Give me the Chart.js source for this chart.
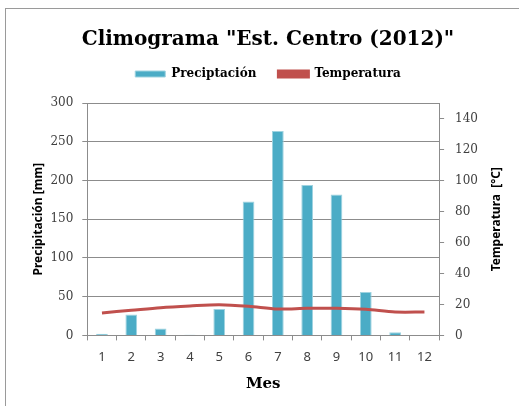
<!DOCTYPE html>
<html>
<head>
<meta charset="utf-8">
<script src="https://cdn.jsdelivr.net/npm/chart.js@4/dist/chart.umd.min.js"></script>
<style>
  html, body { margin: 0; padding: 0; background: #fff; }
  #wrap { position: relative; width: 519px; height: 406px; overflow: hidden; }
  #frame { position: absolute; left: 5px; top: 8px; width: 530px; height: 420px; border: 1px solid #9a9a9a; box-sizing: border-box; }
  #chart { position: absolute; left: 0; top: 0; }
</style>
</head>
<body>
<div id="wrap">
  <div id="frame"></div>
  <canvas id="chart" width="519" height="406"></canvas>
</div>
<script>
// Monthly climate data
const months = ['1', '2', '3', '4', '5', '6', '7', '8', '9', '10', '11', '12'];
const precipitation = [2, 27, 9, 1, 34, 173, 264, 194, 182, 56, 4, 0];
const temperature = [14.5, 16.2, 17.9, 19.0, 19.8, 18.8, 17.0, 17.5, 17.5, 16.8, 15.1, 15.1];
const tempTicks = [0, 20, 40, 60, 80, 100, 120, 140];

const serif = '"DejaVu Serif", serif';
const sans = '"Noto Sans", sans-serif';
const axisGrey = '#8c8c8c';
const textGrey = '#404040';

// extra room between the legend and the plot
const legendGap = {
    id: 'legendGap',
    beforeInit(chart) {
        const fit = chart.legend.fit;
        chart.legend.fit = function () {
            fit.bind(chart.legend)();
            this.height += 9;
        };
    },
    // header sits a bit right of the canvas centre
    afterLayout(chart) {
        chart.legend.left += 8;
        chart.legend.right += 8;
        chart.legend.top -= 4;
        chart.titleBlock.left += 8;
        chart.titleBlock.right += 8;
    }
};

// right axis title, read bottom-to-top like the left one
const rightTitle = {
    id: 'rightTitle',
    afterDraw(chart) {
        const { ctx, chartArea } = chart;
        ctx.save();
        ctx.translate(497, (chartArea.top + chartArea.bottom) / 2);
        ctx.rotate(-Math.PI / 2);
        ctx.font = 'bold 12px ' + sans;
        ctx.fillStyle = '#000';
        ctx.textAlign = 'center';
        ctx.textBaseline = 'middle';
        ctx.fillText('Temperatura  [°C]', 0, 0);
        ctx.restore();
    }
};

const ctx = document.getElementById('chart').getContext('2d');
new Chart(ctx, {
    type: 'bar',
    data: {
        labels: months,
        datasets: [
            {
                type: 'line',
                label: 'Temperatura',
                data: temperature,
                yAxisID: 'yTemp',
                borderColor: '#c0504d',
                backgroundColor: '#c0504d',
                borderWidth: 3,
                pointRadius: 0,
                tension: 0.3,
                order: 0
            },
            {
                label: 'Preciptación',
                data: precipitation,
                yAxisID: 'yPrec',
                backgroundColor: '#4bacc6',
                borderColor: '#9fd3e0',
                borderWidth: 1,
                barPercentage: 0.8,
                categoryPercentage: 0.5,
                order: 1
            }
        ]
    },
    plugins: [legendGap, rightTitle],
    options: {
        responsive: false,
        animation: false,
        layout: { padding: { left: 31, right: 30, top: 10, bottom: 13 } },
        plugins: {
            title: {
                display: true,
                text: 'Climograma "Est. Centro (2012)"',
                color: '#000',
                font: { family: serif, size: 20, weight: 'bold', lineHeight: 1 },
                padding: { top: 20, bottom: 0 }
            },
            legend: {
                display: true,
                position: 'top',
                reverse: true,
                labels: {
                    boxWidth: 30,
                    boxHeight: 6,
                    padding: 22,
                    color: '#000',
                    font: { family: serif, size: 12, weight: 'bold' }
                }
            },
            tooltip: { enabled: false }
        },
        scales: {
            x: {
                grid: { offset: true, drawOnChartArea: false, drawTicks: true, tickLength: 5, color: axisGrey },
                border: { color: axisGrey },
                ticks: { color: textGrey, font: { family: sans, size: 13 }, padding: 9 },
                title: {
                    display: true,
                    text: 'Mes',
                    color: '#000',
                    font: { family: serif, size: 15, weight: 'bold' },
                    padding: { top: 1, bottom: 0 }
                }
            },
            yPrec: {
                position: 'left',
                min: 0,
                max: 300,
                grid: { color: axisGrey, tickLength: 5 },
                border: { color: axisGrey },
                ticks: { stepSize: 50, color: textGrey, font: { family: serif, size: 12 }, padding: 9 },
                title: {
                    display: true,
                    text: 'Precipitación [mm]',
                    color: '#000',
                    font: { family: sans, size: 12, weight: 'bold' },
                    padding: { top: 0, bottom: -4 }
                }
            },
            yTemp: {
                position: 'right',
                min: 0,
                max: 150,
                afterBuildTicks: (axis) => {
                    axis.ticks = tempTicks.map(v => ({ value: v }));
                },
                grid: { drawOnChartArea: false, color: axisGrey, tickLength: 5 },
                border: { color: axisGrey },
                ticks: { color: textGrey, font: { family: serif, size: 12 }, padding: 11 }
            }
        }
    }
});
</script>
</body>
</html>
